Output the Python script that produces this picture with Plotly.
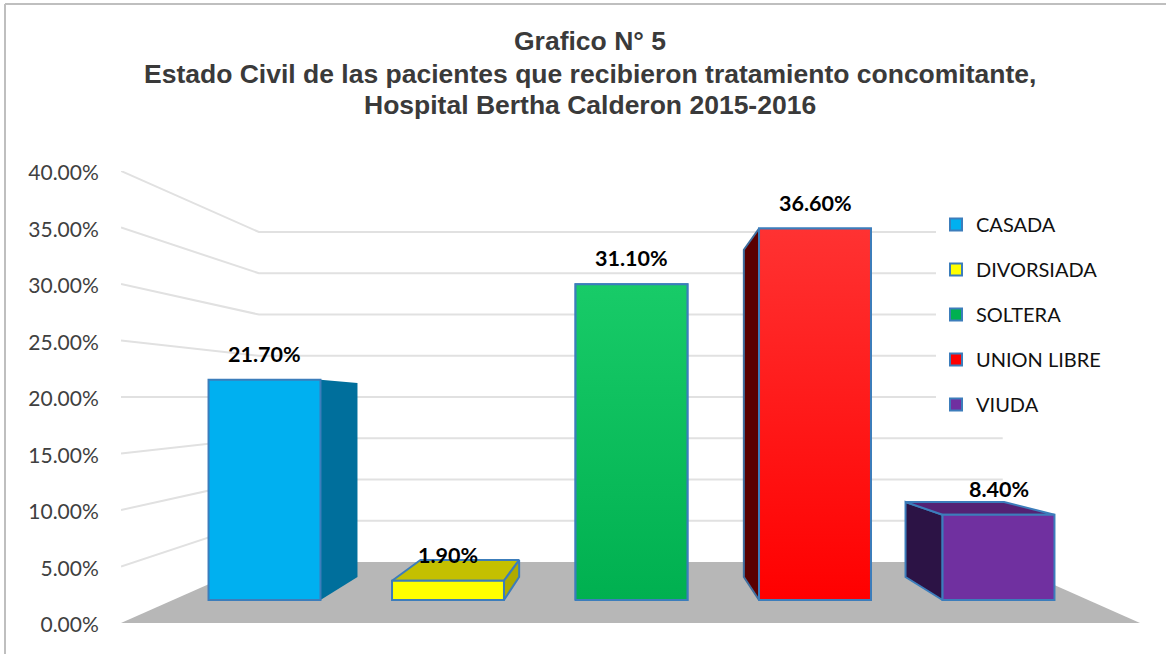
import plotly.graph_objects as go

categories = ["CASADA", "DIVORSIADA", "SOLTERA", "UNION LIBRE", "VIUDA"]
values = [21.7, 1.9, 31.1, 36.6, 8.4]
tick_values = [0, 5, 10, 15, 20, 25, 30, 35, 40]
tick_labels = ["0.00%", "5.00%", "10.00%", "15.00%", "20.00%",
               "25.00%", "30.00%", "35.00%", "40.00%"]
title_lines = [
    "Grafico N° 5",
    "Estado Civil de las pacientes que recibieron tratamiento concomitante,",
    "Hospital Bertha Calderon 2015-2016",
]

front_colors = ["#00B0F0", "#FFFF00", "#00B050", "#FF0000", "#7030A0"]
outline = "#3C7DBB"
W, H = 1166, 654
ML, MR, MT, MB = 121, 26, 171, 31
PW, PH = W - ML - MR, H - MT - MB

# x axis: one unit per category
STEP = 183.5
X0 = 264.5
x_range = [(ML - X0) / STEP, (W - MR - X0) / STEP]
BAR = 0.61

# front plane of the columns sits on its own value axis (y2)
BASE_PX, PX_PER = 600.0, 10.15
y2_range = [(BASE_PX - (H - MB)) / PX_PER, (BASE_PX - MT) / PX_PER]

# perspective towards a vanishing point
VP_X = 2.0
VP_V = 19.0
DEPTH = 0.119
WALL = 0.27
WALL_VP = 20.0


def back(x, v):
    return x + DEPTH * (VP_X - x), v + DEPTH * (VP_V - v)


def wall_x(x):
    return x + WALL * (VP_X - x)


def wall_v(v):
    return v + WALL * (WALL_VP - v)


fig = go.Figure()

# floor
L, R = x_range
fig.add_trace(go.Scatter(
    x=[L, wall_x(L), wall_x(R), R, L], y=[0, wall_v(0), wall_v(0), 0, 0],
    mode="lines", fill="toself", fillcolor="#B7B7B7", line=dict(width=0),
    showlegend=False, hoverinfo="skip"))

# walls and gridlines
for t in tick_values[1:]:
    fig.add_trace(go.Scatter(
        x=[L, wall_x(L), wall_x(R)], y=[t, wall_v(t), wall_v(t)],
        mode="lines", line=dict(color="#E1E1E1", width=2),
        showlegend=False, hoverinfo="skip"))


def face(points, color, line_color=None):
    xs = [p[0] for p in points] + [points[0][0]]
    ys = [p[1] for p in points] + [points[0][1]]
    fig.add_trace(go.Scatter(
        x=xs, y=ys, yaxis="y2", mode="lines", fill="toself", fillcolor=color,
        line=dict(color=line_color or color, width=2 if line_color else 0),
        showlegend=False, hoverinfo="skip", zorder=1))


def corners(i):
    return i - BAR / 2, i + BAR / 2


# side faces
a, b = corners(0)
face([(b, 0), back(b, 0), back(b, values[0]), (b, values[0])], "#006F9C")

a, b = corners(1)
face([(a, values[1]), back(a, values[1]), back(b, values[1]), (b, values[1])], "#C4C000", outline)
face([(b, 0), back(b, 0), back(b, values[1]), (b, values[1])], "#AFAB00", outline)

a, b = corners(3)
face([(a, 0), back(a, 0), back(a, values[3]), (a, values[3])], "#5A0000", "#3F6E9E")

a, b = corners(4)
face([(a, 0), back(a, 0), back(a, values[4]), (a, values[4])], "#2C1345", outline)
face([(a, values[4]), back(a, values[4]), back(b, values[4]), (b, values[4])], "#542274", outline)

# columns
for i, (name, value, color) in enumerate(zip(categories, values, front_colors)):
    fig.add_trace(go.Bar(
        x=[i], y=[value], width=BAR, yaxis="y2", name=name,
        marker=dict(color=color, line=dict(color=outline, width=2)),
        legendgroup=name, zorder=2,
        hovertemplate=name + ": %{y:.2f}%<extra></extra>"))

# gradient overlays on the green and red fronts
for i, top in ((2, "#18CB68"), (3, "#FF3232")):
    a, b = corners(i)
    fig.add_trace(go.Scatter(
        x=[a, b, b, a, a], y=[0, 0, values[i], values[i], 0], yaxis="y2",
        mode="lines", fill="toself",
        fillgradient=dict(type="vertical",
                          colorscale=[[0, front_colors[i]], [1, top]]),
        line=dict(color=outline, width=2),
        showlegend=False, hoverinfo="skip", zorder=3))

annotations = [
    dict(x=i, y=v, xref="x", yref="y2", yanchor="middle", yshift=26,
         text=f"{v:.2f}%", showarrow=False,
         font=dict(family="Lato", size=21.5, color="#000000", weight="bold"))
    for i, v in enumerate(values)
]
for line, py in zip(title_lines[1:], (74, 105)):
    annotations.append(dict(
        x=(590 - ML) / PW, y=(H - MB - py) / PH, xref="paper", yref="paper",
        yanchor="middle", text=f"<b>{line}</b>", showarrow=False,
        font=dict(family="Liberation Sans", size=26.5, color="#3A3A3A")))

shapes = [
    dict(type="line", xref="paper", yref="paper",
         x0=(5 - ML) / PW, x1=(W - ML) / PW,
         y0=(H - MB - 4) / PH, y1=(H - MB - 4) / PH,
         line=dict(color="#BFBFBF", width=2)),
    dict(type="line", xref="paper", yref="paper",
         x0=(5 - ML) / PW, x1=(5 - ML) / PW,
         y0=(H - MB - 4) / PH, y1=-MB / PH,
         line=dict(color="#BFBFBF", width=2)),
]

fig.update_layout(
    width=W, height=H, autosize=False,
    margin=dict(l=ML, r=MR, t=MT, b=MB),
    paper_bgcolor="white", plot_bgcolor="white",
    barmode="overlay",
    title=dict(text=f"<b>{title_lines[0]}</b>", x=590 / W, xanchor="center",
               y=1 - 41 / H, yanchor="middle",
               font=dict(family="Liberation Sans", size=26.5, color="#3A3A3A")),
    xaxis=dict(range=x_range, visible=False, fixedrange=True),
    yaxis=dict(range=[0, 40], tickmode="array", tickvals=tick_values,
               ticktext=tick_labels, showgrid=False, zeroline=False,
               showline=False, ticks="outside", ticklen=17,
               tickcolor="rgba(0,0,0,0)", ticklabelshift=2,
               tickfont=dict(family="Lato", size=21, color="#404040"),
               fixedrange=True),
    yaxis2=dict(range=y2_range, overlaying="y", visible=False, fixedrange=True),
    legend=dict(x=(936 - ML) / PW, xanchor="left", y=(H - MB - 205) / PH,
                yanchor="top", bgcolor="white", tracegroupgap=16,
                font=dict(family="Lato", size=20, color="#111111")),
    annotations=annotations,
    shapes=shapes,
)

fig.write_html("out.html", config=dict(displayModeBar=False),
               post_script="document.body.style.margin='0';")
